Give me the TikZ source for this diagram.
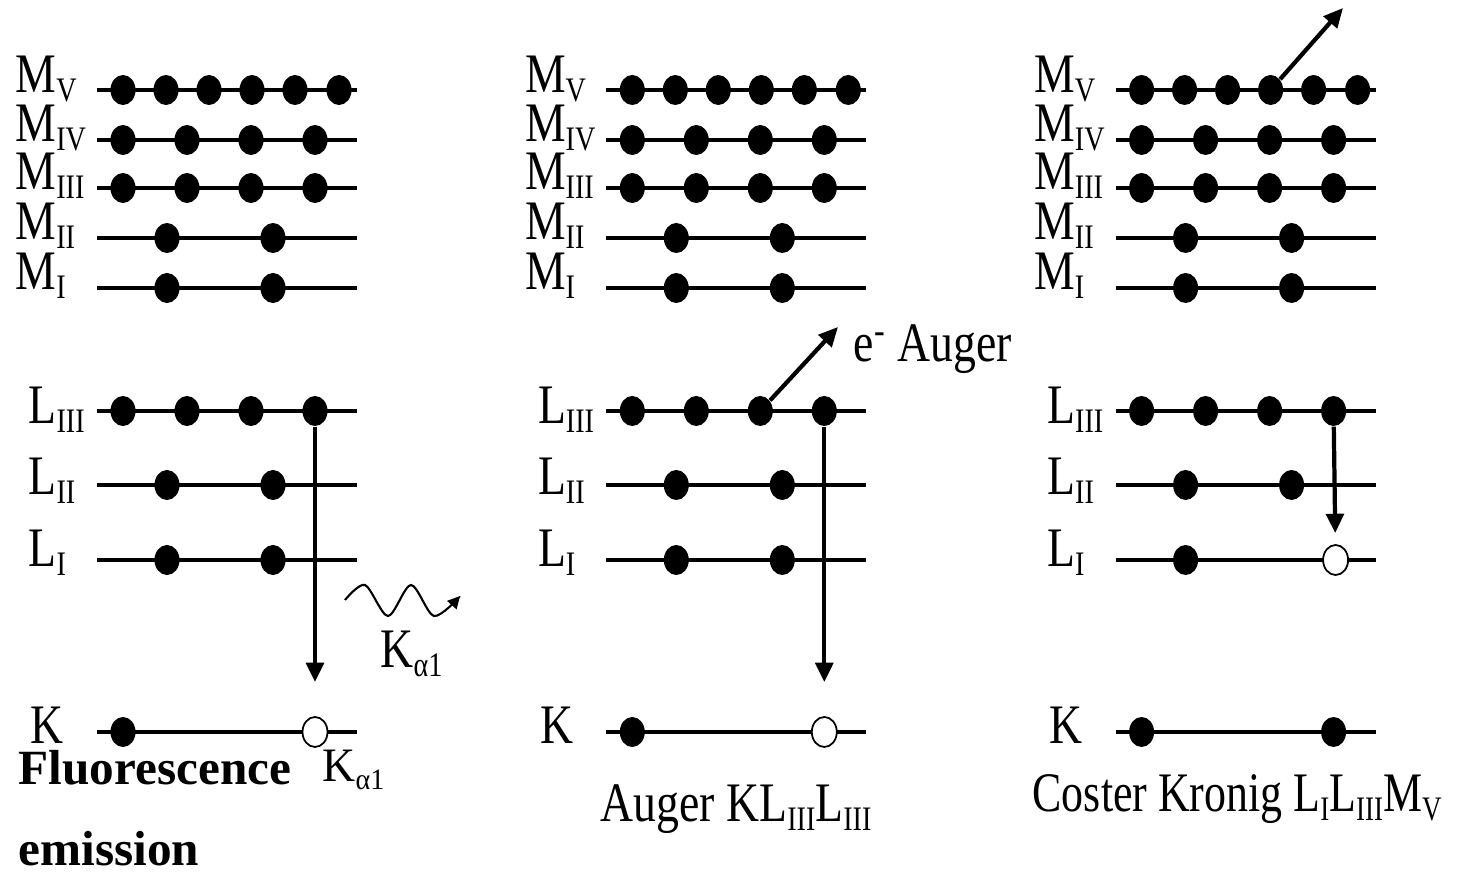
\documentclass[tikz,border=0pt]{standalone}
\usepackage{fontspec}
\setmainfont{Liberation Serif}
\usepackage{graphicx}
\usetikzlibrary{arrows.meta, shapes.geometric}

% letras de capa, estiradas en vertical como en la figura
\newcommand{\tallx}[1]{\scalebox{1}[1.22]{#1}}
\newcommand{\low}[1]{\smash{\raisebox{-0.35ex}{\fontsize{8}{9}\selectfont #1}}}
\newcommand{\shell}[2]{\tallx{#1\low{#2}}}

\begin{document}
\begin{tikzpicture}[x=0.01cm, y=-0.01cm, >={Triangle[length=5.5pt,width=5pt]},
    font=\fontsize{13}{15}\selectfont,
    lvl/.style={line width=1.4pt},
    elec/.style={ellipse, fill=black, inner sep=0pt, minimum width=0.25cm, minimum height=0.30cm},
    hole/.style={elec, fill=white, draw=black, line width=0.5pt},
    jump/.style={->, line width=1.2pt},
    lbl/.style={anchor=base west, inner sep=0pt}]

    \useasboundingbox (0,0) rectangle (1457,877);

    % ==========================================================
    % los tres diagramas de niveles
    % ==========================================================
    \foreach \p/\sx/\lix/\listy/\kstyle in {a/0/273/elec/hole, b/5.09/273/elec/hole, c/10.18/317/hole/elec} {
        \begin{scope}[xshift=\sx cm]
            \foreach \lv/\L/\sub/\y/\dy/\dx in {mv/M/V/90/3/82, miv/M/IV/140/2/82,
                    miii/M/III/188/2/82, mii/M/II/238/2/82, mi/M/I/288/2/82,
                    liii/L/III/411/13/69, lii/L/II/485/10/69, li/L/I/560/7/69, k/K//732/12/67} {
                \coordinate (\p-\lv-w) at (97,\y);
                \coordinate (\p-\lv-e) at (357,\y);
                \draw[lvl] (\p-\lv-w) -- (\p-\lv-e);
                \node[lbl] (\p-\lv-lbl) at (97-\dx,\y+\dy) {\shell{\L}{\sub}};
            }

            \foreach \i/\dx in {1/26, 2/69, 3/112, 4/155, 5/198, 6/242}
                \node[elec] (\p-mv\i) at (97+\dx,90) {};
            \foreach \lv/\y in {miv/140, miii/188, liii/411}
                \foreach \i/\dx in {1/26, 2/90, 3/154, 4/218}
                    \node[elec] (\p-\lv\i) at (97+\dx,\y) {};
            \foreach \lv/\y in {mii/238, mi/288, lii/485}
                \foreach \i/\dx in {1/70, 2/176}
                    \node[elec] (\p-\lv\i) at (97+\dx,\y) {};

            \node[elec] (\p-li1) at (167,560) {};
            \node[\listy] (\p-li2) at (\lix,560) {};
            \node[elec] (\p-k1) at (123,732) {};
            \node[\kstyle] (\p-k2) at (315,732) {};
        \end{scope}
    }

    % (a) fluorescencia
    \draw[jump, shorten >=0.34cm] (a-liii4) -- (a-k2);
    \draw[line width=0.6pt, -{Triangle[length=3.5pt,width=3.5pt]}] plot[smooth]
        coordinates {(345,600) (365,585) (388,616) (411,585) (434,616) (460,596)};
    \node[lbl] (a-kalpha) at (380,668) {\shell{K}{α1}};
    \node[lbl, font=\fontsize{14}{16}\selectfont\bfseries] (a-cap1) at (18,785) {Fluorescence};
    \node[lbl, font=\fontsize{14}{16}\selectfont\bfseries] (a-cap2) at (18,866) {emission};
    \node[lbl] (a-cap3) at (322,782) {\scalebox{1}[1.05]{K\low{α1}}};

    % (b) Auger
    \draw[jump, shorten >=0.34cm] (b-liii4) -- (b-k2);
    \coordinate (b-eout) at (838,327);
    \draw[jump] (b-liii3) -- (b-eout);
    \node[lbl] (b-auger) at (853,362) {\tallx{e\textsuperscript{-} Auger}};
    \node[lbl] (b-cap) at (600,822) {\tallx{Auger KL\low{III}L\low{III}}};

    % (c) Coster-Kronig
    \draw[jump, shorten >=0.11cm] (c-liii4) -- (c-li2);
    \coordinate (c-eout) at (1343,8);
    \draw[jump] (c-mv4) -- (c-eout);
    \node[lbl] (c-cap) at (1032,812) {\scalebox{0.96}[1.22]{Coster Kronig L\low{I}L\low{III}M\low{V}}};

\end{tikzpicture}
\end{document}
